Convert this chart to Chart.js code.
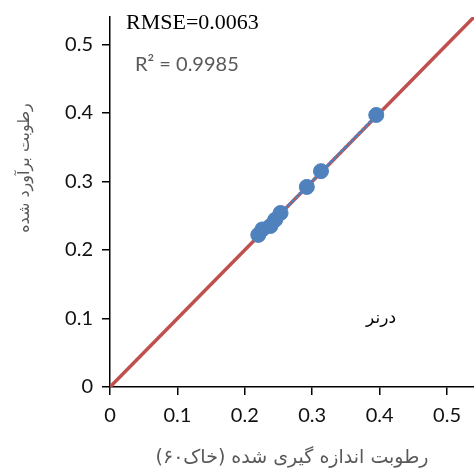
<!DOCTYPE html>
<html>
<head>
<meta charset="utf-8">
<script src="https://cdn.jsdelivr.net/npm/chart.js@4.4.1/dist/chart.umd.min.js"></script>
<style>
  html, body { margin: 0; padding: 0; background: #fff; overflow: hidden; }
  canvas { display: block; }
</style>
</head>
<body>
<canvas id="myChart" width="474" height="474"></canvas>
<script>
// Datos
const measured  = [0.220, 0.226, 0.238, 0.245, 0.253, 0.292, 0.313, 0.395]; // خاک۶۰
const estimated = [0.222, 0.230, 0.235, 0.244, 0.254, 0.292, 0.315, 0.397];
const oneToOneX = [0, 0.54];
const oneToOneY = [0, 0.54];
const trendX = [0.219, 0.396];
const trendY = [0.219, 0.397];
const axisMax = 0.54;

const xTitle = 'رطوبت اندازه گیری شده (خاک۶۰)';
const yTitle = 'رطوبت برآورد شده';
const rmseText = 'RMSE=0.0063';
const r2Text = 'R² = 0.9985';
const siteText = 'درنر';

const toPoints = (xs, ys) => xs.map((x, i) => ({ x: x, y: ys[i] }));

// Textos sueltos sobre el grafico
const labelsPlugin = {
  id: 'labels',
  afterDraw(chart) {
    const ctx = chart.ctx;
    ctx.save();
    ctx.textBaseline = 'alphabetic';
    ctx.fillStyle = '#000';
    ctx.font = '22px "Liberation Serif"';
    ctx.textAlign = 'left';
    ctx.fillText(rmseText, 126, 29);

    ctx.fillStyle = '#595959';
    ctx.font = '20px Lato';
    ctx.fillText(r2Text, 135, 71);

    ctx.fillStyle = '#000';
    ctx.font = '17px "DejaVu Sans"';
    ctx.direction = 'rtl';
    ctx.textAlign = 'center';
    ctx.fillText(siteText, 381, 323);

    // titulo eje y
    ctx.fillStyle = '#595959';
    ctx.font = '16px "DejaVu Sans"';
    ctx.translate(25, 168);
    ctx.rotate(-Math.PI / 2);
    ctx.textBaseline = 'middle';
    ctx.fillText(yTitle, 0, 0);
    ctx.restore();
  }
};

const ctx = document.getElementById('myChart').getContext('2d');
const myChart = new Chart(ctx, {
  type: 'scatter',
  data: {
    datasets: [
      {
        label: 'points',
        data: toPoints(measured, estimated),
        backgroundColor: '#4f81bd',
        borderColor: '#4f81bd',
        borderWidth: 1,
        pointRadius: 7.5
      },
      {
        label: 'trend',
        type: 'line',
        data: toPoints(trendX, trendY),
        borderColor: '#4f81bd',
        borderWidth: 3,
        borderDash: [1, 4],
        borderCapStyle: 'round',
        pointRadius: 0
      },
      {
        label: '1:1',
        type: 'line',
        data: toPoints(oneToOneX, oneToOneY),
        borderColor: '#c0504d',
        borderWidth: 3.5,
        pointRadius: 0
      }
    ]
  },
  options: {
    responsive: false,
    animation: false,
    devicePixelRatio: 1,
    layout: { autoPadding: false, padding: { top: 17, right: 0, left: 0, bottom: 0 } },
    plugins: {
      legend: { display: false },
      tooltip: { enabled: false }
    },
    scales: {
      x: {
        type: 'linear',
        min: 0,
        max: axisMax,
        afterFit: scale => {
          scale.height = 87;
          scale.paddingLeft = 0;
          scale.paddingRight = 0;
        },
        border: { color: '#000', width: 1.5 },
        grid: { drawOnChartArea: false, drawTicks: true, tickLength: 8, color: '#000', lineWidth: 1.5 },
        ticks: {
          stepSize: 0.1,
          includeBounds: false,
          color: '#111',
          padding: 9,
          font: { family: 'Lato', size: 20 }
        },
        title: {
          display: true,
          text: xTitle,
          color: '#595959',
          padding: { top: 0, bottom: 5 },
          font: { family: 'DejaVu Sans', size: 19 }
        }
      },
      y: {
        type: 'linear',
        min: 0,
        max: axisMax,
        afterFit: scale => {
          scale.width = 110;
          scale.paddingTop = 0;
          scale.paddingBottom = 0;
        },
        border: { color: '#000', width: 1.5 },
        grid: { drawOnChartArea: false, drawTicks: true, tickLength: 8, color: '#000', lineWidth: 1.5 },
        ticks: {
          stepSize: 0.1,
          includeBounds: false,
          color: '#111',
          padding: 9,
          font: { family: 'Lato', size: 20 }
        }
      }
    }
  },
  plugins: [labelsPlugin]
});
</script>
</body>
</html>
